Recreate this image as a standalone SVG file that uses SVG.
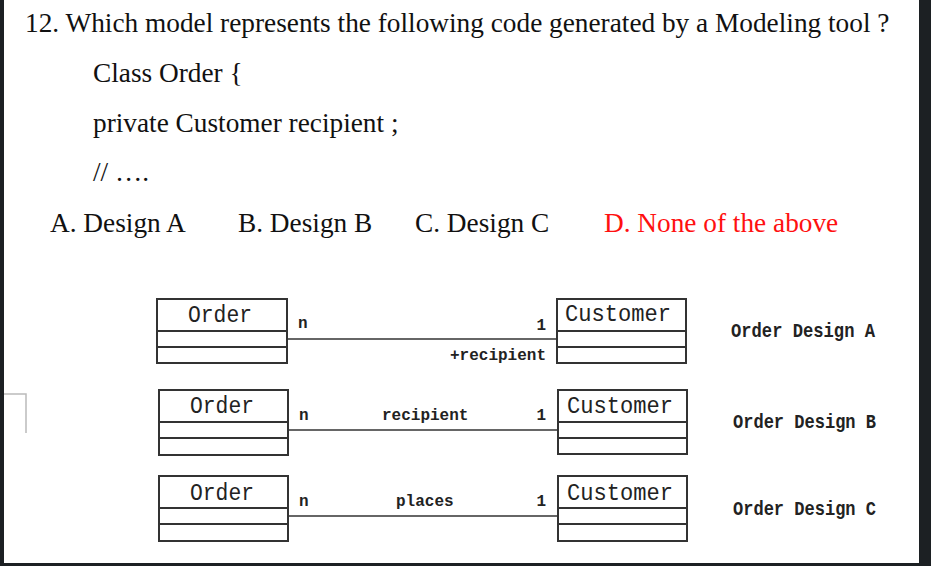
<svg xmlns="http://www.w3.org/2000/svg" width="931" height="566" viewBox="0 0 931 566">
<style>
.q{font-family:"Liberation Serif","Times New Roman",serif;font-size:27.3px;fill:#111}
.red{fill:#ff1010}
.box{fill:#fff;stroke:#333;stroke-width:2}
.div{stroke:#333;stroke-width:2}
.cls{font-family:"Liberation Mono","Courier New",monospace;font-size:24px;fill:#222}
.lbl{font-family:"Liberation Mono","Courier New",monospace;font-size:16px;font-weight:bold;fill:#222}
.cap{font-family:"Liberation Mono","Courier New",monospace;font-size:21px;font-weight:bold;fill:#222}
.con{stroke:#666;stroke-width:2;fill:none}
</style>
<rect x="0" y="0" width="931" height="566" fill="#fff"/>
<rect x="0" y="0" width="4" height="566" fill="#1c2023"/>
<rect x="919" y="0" width="12" height="566" fill="#1c2023"/>
<rect x="0" y="563" width="931" height="3" fill="#1c2023"/>
<polyline points="4,394 26,394 26,433" fill="none" stroke="#bbb" stroke-width="1.5"/>

<g id="question">
<text class="q" x="25" y="32">12. Which model represents the following code generated by a Modeling tool ?</text>
<text class="q" x="93" y="82">Class Order {</text>
<text class="q" x="93" y="132">private Customer recipient ;</text>
<text class="q" x="93" y="181">// ….</text>
<text class="q" x="50" y="232">A. Design A</text>
<text class="q" x="238" y="232">B. Design B</text>
<text class="q" x="415" y="232">C. Design C</text>
<text class="q red" x="604" y="232">D. None of the above</text>
</g>

<g id="connectors">
<line class="con" x1="287" y1="339" x2="557" y2="339"/>
<line class="con" x1="288" y1="430" x2="558" y2="430"/>
<line class="con" x1="288" y1="516" x2="558" y2="516"/>
</g>

<g id="orderA">
<rect class="box" x="157" y="299" width="130" height="64"/>
<line class="div" x1="157" y1="331" x2="287" y2="331"/>
<line class="div" x1="157" y1="347" x2="287" y2="347"/>
<text class="cls" x="188" y="322" textLength="64" lengthAdjust="spacingAndGlyphs">Order</text>
</g>
<g id="customerA">
<rect class="box" x="557" y="299" width="129" height="64"/>
<line class="div" x1="557" y1="331" x2="686" y2="331"/>
<line class="div" x1="557" y1="347" x2="686" y2="347"/>
<text class="cls" x="565" y="321" textLength="106" lengthAdjust="spacingAndGlyphs">Customer</text>
</g>
<g id="labelsA">
<text class="lbl" x="298" y="328">n</text>
<text class="lbl" x="546" y="330" text-anchor="end">1</text>
<text class="lbl" x="546" y="360" text-anchor="end">+recipient</text>
<text class="cap" x="731" y="337" textLength="144" lengthAdjust="spacingAndGlyphs">Order Design A</text>
</g>

<g id="orderB">
<rect class="box" x="159" y="390" width="129" height="65"/>
<line class="div" x1="159" y1="422" x2="288" y2="422"/>
<line class="div" x1="159" y1="438" x2="288" y2="438"/>
<text class="cls" x="190" y="413" textLength="64" lengthAdjust="spacingAndGlyphs">Order</text>
</g>
<g id="customerB">
<rect class="box" x="558" y="390" width="129" height="64"/>
<line class="div" x1="558" y1="422" x2="687" y2="422"/>
<line class="div" x1="558" y1="438" x2="687" y2="438"/>
<text class="cls" x="567" y="413" textLength="106" lengthAdjust="spacingAndGlyphs">Customer</text>
</g>
<g id="labelsB">
<text class="lbl" x="299" y="420">n</text>
<text class="lbl" x="546" y="420" text-anchor="end">1</text>
<text class="lbl" x="382" y="420">recipient</text>
<text class="cap" x="733" y="428" textLength="143" lengthAdjust="spacingAndGlyphs">Order Design B</text>
</g>

<g id="orderC">
<rect class="box" x="159" y="476" width="129" height="65"/>
<line class="div" x1="159" y1="508" x2="288" y2="508"/>
<line class="div" x1="159" y1="524" x2="288" y2="524"/>
<text class="cls" x="190" y="500" textLength="64" lengthAdjust="spacingAndGlyphs">Order</text>
</g>
<g id="customerC">
<rect class="box" x="558" y="476" width="129" height="65"/>
<line class="div" x1="558" y1="508" x2="687" y2="508"/>
<line class="div" x1="558" y1="524" x2="687" y2="524"/>
<text class="cls" x="567" y="500" textLength="106" lengthAdjust="spacingAndGlyphs">Customer</text>
</g>
<g id="labelsC">
<text class="lbl" x="299" y="506">n</text>
<text class="lbl" x="546" y="506" text-anchor="end">1</text>
<text class="lbl" x="396" y="506">places</text>
<text class="cap" x="733" y="515" textLength="143" lengthAdjust="spacingAndGlyphs">Order Design C</text>
</g>
</svg>
